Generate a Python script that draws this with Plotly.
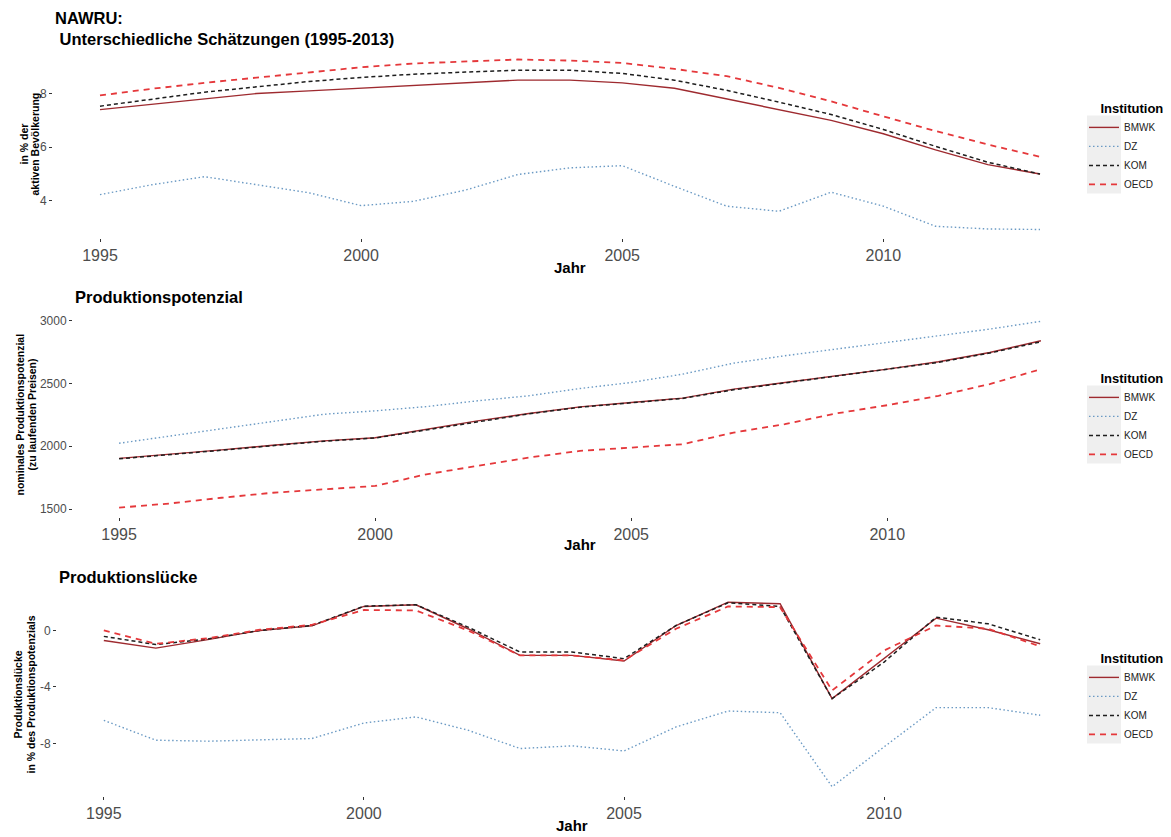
import plotly.graph_objects as go

# ---------------- data ----------------
years = list(range(1995, 2014))
institutions = ["BMWK", "DZ", "KOM", "OECD"]

# NAWRU (in % der aktiven Bevölkerung)
nawru_bmwk = [7.4, 7.6, 7.8, 8.0, 8.1, 8.2, 8.3, 8.4, 8.5, 8.5, 8.4, 8.2, 7.8, 7.4, 7.0, 6.5, 5.9, 5.35, 5.0]
nawru_dz = [4.23, 4.6, 4.9, 4.6, 4.3, 3.82, 3.98, 4.4, 4.98, 5.23, 5.31, 4.54, 3.8, 3.61, 4.32, 3.8, 3.05, 2.95, 2.93]
nawru_kom = [7.53, 7.8, 8.05, 8.25, 8.45, 8.6, 8.72, 8.8, 8.87, 8.87, 8.75, 8.5, 8.12, 7.68, 7.22, 6.66, 6.03, 5.44, 5.0]
nawru_oecd = [7.93, 8.18, 8.4, 8.6, 8.8, 8.98, 9.12, 9.2, 9.27, 9.23, 9.14, 8.92, 8.65, 8.21, 7.71, 7.15, 6.6, 6.1, 5.64]

# Produktionspotenzial (nominal, zu laufenden Preisen)
pp_bmwk = [1904, 1936, 1971, 2008, 2043, 2068, 2136, 2202, 2261, 2314, 2348, 2383, 2455, 2508, 2566, 2614, 2673, 2747, 2840]
pp_dz = [2024, 2082, 2141, 2202, 2255, 2282, 2316, 2362, 2402, 2460, 2508, 2574, 2662, 2721, 2774, 2827, 2880, 2933, 2995]
pp_kom = [1900, 1933, 1968, 2005, 2040, 2066, 2132, 2198, 2258, 2311, 2345, 2381, 2450, 2505, 2562, 2612, 2668, 2742, 2832]
pp_oecd = [1511, 1545, 1590, 1630, 1657, 1684, 1777, 1843, 1910, 1963, 1989, 2016, 2109, 2176, 2261, 2327, 2402, 2495, 2614]

# Produktionslücke (in % des Produktionspotenzials)
gap_bmwk = [-0.71, -1.25, -0.65, 0.0, 0.33, 1.7, 1.82, 0.12, -1.77, -1.77, -2.17, 0.35, 2.0, 1.89, -4.83, -2.0, 0.87, 0.05, -0.94]
gap_dz = [-6.37, -7.78, -7.85, -7.78, -7.66, -6.56, -6.13, -7.07, -8.37, -8.18, -8.54, -6.84, -5.71, -5.83, -11.08, -8.25, -5.47, -5.47, -6.01]
gap_kom = [-0.42, -1.0, -0.6, 0.0, 0.35, 1.72, 1.82, 0.24, -1.53, -1.53, -2.0, 0.35, 1.96, 1.7, -4.83, -2.24, 0.94, 0.47, -0.66]
gap_oecd = [0.0, -0.95, -0.55, 0.05, 0.4, 1.45, 1.42, 0.0, -1.77, -1.77, -2.12, 0.12, 1.7, 1.65, -4.25, -1.42, 0.35, 0.12, -1.13]

x_ticks = [1995, 2000, 2005, 2010]
nawru_ticks = [4, 6, 8]
pp_ticks = [1500, 2000, 2500, 3000]
gap_ticks = [-8, -4, 0]

# ---------------- styling ----------------
OFF = 8  # page body margin
W, H = 1171 - OFF, 837 - OFF
FONT = "Liberation Sans, Arial, Helvetica, sans-serif"
styles = {
    "BMWK": dict(color="#9E2A2F", dash="solid", width=1.4),
    "DZ": dict(color="#6B9AC4", dash="1.5px,2.5px", width=1.4),
    "KOM": dict(color="#1E1E1E", dash="4px,3px", width=1.5),
    "OECD": dict(color="#E5383B", dash="6px,5px", width=1.8),
}


def px_x(p):
    return (p - OFF) / W


def px_y(p):
    return 1 - (p - OFF) / H


panels = [
    # (data dict, ticks, x-left px, top px, bottom px)
    (dict(zip(institutions, [nawru_bmwk, nawru_dz, nawru_kom, nawru_oecd])), nawru_ticks, 53, 51, 238),
    (dict(zip(institutions, [pp_bmwk, pp_dz, pp_kom, pp_oecd])), pp_ticks, 73, 312, 517),
    (dict(zip(institutions, [gap_bmwk, gap_dz, gap_kom, gap_oecd])), gap_ticks, 57, 593, 796),
]
X_RIGHT = 1087
LEG_X = 1084

fig = go.Figure()
layout = {}
annotations = []
shapes = []

# y-axis titles: two lines each, with x centre (px) of each line
y_titles = [
    [("in % der", 23), ("aktiven Bevölkerung", 34)],
    [("nominales Produktionspotenzial", 19), ("(zu laufenden Preisen)", 31)],
    [("Produktionslücke", 17), ("in % des Produktionspotenzials", 30)],
]
panel_titles = [
    ("NAWRU:<br>&nbsp;Unterschiedliche Schätzungen (1995-2013)", 29),
    ("Produktionspotenzial", 297),
    ("Produktionslücke", 577),
]
jahr_y = [268, 545, 826]

for i, (data, yt, xl, top, bot) in enumerate(panels):
    n = i + 1
    xa = "x" if n == 1 else f"x{n}"
    ya = "y" if n == 1 else f"y{n}"
    leg = "legend" if n == 1 else f"legend{n}"
    for inst in institutions:
        st = styles[inst]
        fig.add_trace(go.Scatter(
            x=years, y=data[inst], mode="lines", name=inst,
            line=dict(color=st["color"], dash=st["dash"], width=st["width"]),
            xaxis=xa, yaxis=ya, legend=leg, showlegend=True,
        ))
    allv = [v for inst in institutions for v in data[inst]]
    lo, hi = min(allv), max(allv)
    pad = (hi - lo) * 0.05
    xpad = (years[-1] - years[0]) * 0.05
    key_x = "xaxis" if n == 1 else f"xaxis{n}"
    key_y = "yaxis" if n == 1 else f"yaxis{n}"
    layout[key_x] = dict(
        domain=[px_x(xl), px_x(X_RIGHT)], anchor=ya,
        range=[years[0] - xpad, years[-1] + xpad],
        tickvals=x_ticks, ticktext=[str(t) for t in x_ticks],
        ticks="outside", ticklen=3, tickwidth=1, tickcolor="#333333",
        showgrid=False, zeroline=False, showline=False,
        tickfont=dict(size=16, color="#4D4D4D", family=FONT),
    )
    layout[key_y] = dict(
        domain=[px_y(bot), px_y(top)], anchor=xa,
        range=[lo - pad, hi + pad],
        tickvals=yt, ticktext=[str(t) for t in yt],
        ticks="outside", ticklen=3, tickwidth=1, tickcolor="#333333",
        showgrid=False, zeroline=False, showline=False,
        tickfont=dict(size=12, color="#4D4D4D", family=FONT),
    )
    mid = (top + bot) / 2
    layout[leg] = dict(
        title=dict(text="&nbsp;&nbsp;&nbsp;&nbsp;<b>Institution</b>",
                   font=dict(size=13, color="#000000", family=FONT)),
        x=px_x(LEG_X), xanchor="left", y=px_y(mid + 3), yanchor="middle",
        bgcolor="rgba(0,0,0,0)", font=dict(size=10, color="#222222", family=FONT),
        tracegroupgap=0, itemclick=False, itemdoubleclick=False,
    )
    # grey key column behind legend symbols
    shapes.append(dict(
        type="rect", xref="paper", yref="paper",
        x0=px_x(LEG_X + 3), x1=px_x(LEG_X + 37),
        y0=px_y(mid + 3 + 46), y1=px_y(mid + 3 - 32),
        fillcolor="#EFEFEF", line=dict(width=0), layer="below",
    ))
    # y axis title (two lines)
    for txt, lx in y_titles[i]:
        annotations.append(dict(
            text=f"<b>{txt}</b>", x=px_x(lx), y=px_y(mid), xref="paper", yref="paper",
            textangle=-90, showarrow=False, xanchor="center", yanchor="middle",
            font=dict(size=10.5, color="#000000", family=FONT),
        ))
    # panel title
    ttxt, ty = panel_titles[i]
    annotations.append(dict(
        text=f"<b>{ttxt}</b>", x=px_x(xl), y=px_y(ty), xref="paper", yref="paper",
        showarrow=False, xanchor="left", yanchor="middle", align="left",
        font=dict(size=16.5, color="#000000", family=FONT),
    ))
    # x axis title
    annotations.append(dict(
        text="<b>Jahr</b>", x=px_x((xl + X_RIGHT) / 2), y=px_y(jahr_y[i] - 1), xref="paper", yref="paper",
        showarrow=False, xanchor="center", yanchor="middle",
        font=dict(size=15, color="#000000", family=FONT),
    ))

fig.update_layout(
    width=W, height=H,
    margin=dict(l=0, r=0, t=0, b=0),
    paper_bgcolor="white", plot_bgcolor="white",
    font=dict(family=FONT),
    annotations=annotations, shapes=shapes,
    **layout,
)

fig.write_html("out.html")
